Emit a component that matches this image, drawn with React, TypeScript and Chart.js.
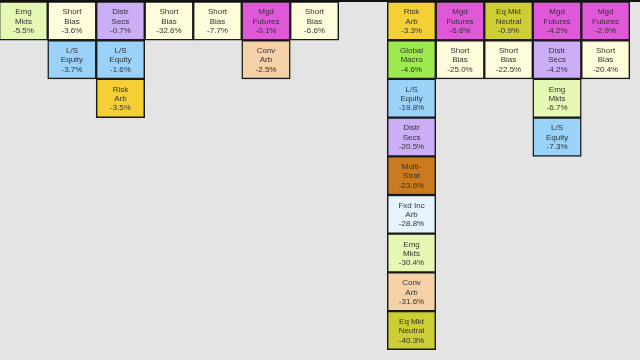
import React, { useEffect, useRef } from "react";
import { Chart, registerables } from "chart.js";

Chart.register(...registerables);

// Years shown as columns (the first one is mostly off the left edge)
const years = ["1999", "2000", "2001", "2002", "2003", "2004", "2005", "2006", "2007", "2008", "2009", "2010", "2011", "2012"];

// Negative-return cells: year, strategy, return (%)
const cellYears = [
  "1999", "1999",
  "2000",
  "2001", "2001",
  "2002", "2002", "2002",
  "2003",
  "2004",
  "2005", "2005",
  "2006",
  "2008", "2008", "2008", "2008", "2008", "2008", "2008", "2008", "2008",
  "2009", "2009",
  "2010", "2010",
  "2011", "2011", "2011", "2011",
  "2012", "2012",
];
const cellStrategies = [
  "Mgd Futures", "Short Bias",
  "Emg Mkts",
  "Short Bias", "L/S Equity",
  "Distr Secs", "L/S Equity", "Risk Arb",
  "Short Bias",
  "Short Bias",
  "Mgd Futures", "Conv Arb",
  "Short Bias",
  "Risk Arb", "Global Macro", "L/S Equity", "Distr Secs", "Multi-Strat", "Fxd Inc Arb", "Emg Mkts", "Conv Arb", "Eq Mkt Neutral",
  "Mgd Futures", "Short Bias",
  "Eq Mkt Neutral", "Short Bias",
  "Mgd Futures", "Distr Secs", "Emg Mkts", "L/S Equity",
  "Mgd Futures", "Short Bias",
];
const cellReturns = [
  -4.7, -14.2,
  -5.5,
  -3.6, -3.7,
  -0.7, -1.6, -3.5,
  -32.6,
  -7.7,
  -0.1, -2.5,
  -6.6,
  -3.3, -4.6, -19.8, -20.5, -23.6, -28.8, -30.4, -31.6, -40.3,
  -6.6, -25.0,
  -0.9, -22.5,
  -4.2, -4.2, -6.7, -7.3,
  -2.9, -20.4,
];

const strategyNames = ["Emg Mkts", "Short Bias", "Distr Secs", "L/S Equity", "Risk Arb", "Mgd Futures", "Conv Arb", "Global Macro", "Multi-Strat", "Fxd Inc Arb", "Eq Mkt Neutral"];
const strategyLabelLines = ["Emg\nMkts", "Short\nBias", "Distr\nSecs", "L/S\nEquity", "Risk\nArb", "Mgd\nFutures", "Conv\nArb", "Global\nMacro", "Multi-\nStrat", "Fxd Inc\nArb", "Eq Mkt\nNeutral"];
const strategyColors = ["#E4F8B4", "#FEFCDB", "#CBAEF6", "#9BD2FA", "#F4D036", "#DE58D8", "#F5D1A8", "#9DEA4E", "#C97B20", "#E4F3FE", "#CDCD35"];

type Cell = { x: number; y: [number, number]; ci: number };

function buildCells(): Cell[] {
  const cells: Cell[] = [];
  years.forEach((yr, xi) => {
    const idx = cellYears.map((y, i) => (y === yr ? i : -1)).filter((i) => i >= 0);
    idx.sort((a, b) => cellReturns[b] - cellReturns[a]);
    idx.forEach((ci, rank) => cells.push({ x: xi, y: [rank, rank + 1], ci }));
  });
  return cells;
}

export default function App() {
  const canvasRef = useRef<HTMLCanvasElement | null>(null);

  useEffect(() => {
    const canvas = canvasRef.current;
    if (!canvas) return;
    const cells = buildCells();

    const labelPlugin = {
      id: "cellLabels",
      afterDatasetsDraw(chart: any) {
        const ctx = chart.ctx as CanvasRenderingContext2D;
        const meta = chart.getDatasetMeta(0);
        ctx.save();
        ctx.font = "8px 'Liberation Sans', Arial, sans-serif";
        ctx.fillStyle = "#333333";
        ctx.textAlign = "center";
        ctx.textBaseline = "middle";
        meta.data.forEach((el: any, i: number) => {
          const cell = cells[i];
          const s = strategyNames.indexOf(cellStrategies[cell.ci]);
          const { x, y, base } = el.getProps(["x", "y", "base"], true);
          const cy = (y + base) / 2 + 0.6;
          const lines = [...strategyLabelLines[s].split("\n"), cellReturns[cell.ci].toFixed(1) + "%"];
          lines.forEach((t, k) => ctx.fillText(t, x, cy + (k - 1) * 9.3));
        });
        // top rule
        ctx.fillStyle = "#111111";
        const a = chart.chartArea;
        ctx.fillRect(a.left, a.top, a.right - a.left, 2);
        ctx.restore();
      },
    };

    const chart = new Chart(canvas, {
      type: "bar",
      data: {
        datasets: [
          {
            label: "Negative returns",
            data: cells as any,
            backgroundColor: cells.map((c) => strategyColors[strategyNames.indexOf(cellStrategies[c.ci])]),
            borderColor: "#1a1a1a",
            borderWidth: 1.5,
            borderSkipped: false,
            barPercentage: 1,
            categoryPercentage: 1,
          },
        ],
      },
      options: {
        animation: false,
        responsive: false,
        layout: { padding: 0 },
        plugins: { legend: { display: false }, tooltip: { enabled: false } },
        scales: {
          x: { type: "linear", offset: false, min: 0.5165, max: 13.71, display: false },
          y: { type: "linear", reverse: true, min: -0.039, max: 9.264, display: false },
        },
      },
      plugins: [labelPlugin],
    });
    return () => chart.destroy();
  }, []);

  return (
    <div style={{ position: "fixed", left: 0, top: 0, width: 640, height: 360, background: "#E4E4E4" }}>
      <canvas ref={canvasRef} width={640} height={360} style={{ display: "block" }} />
    </div>
  );
}
